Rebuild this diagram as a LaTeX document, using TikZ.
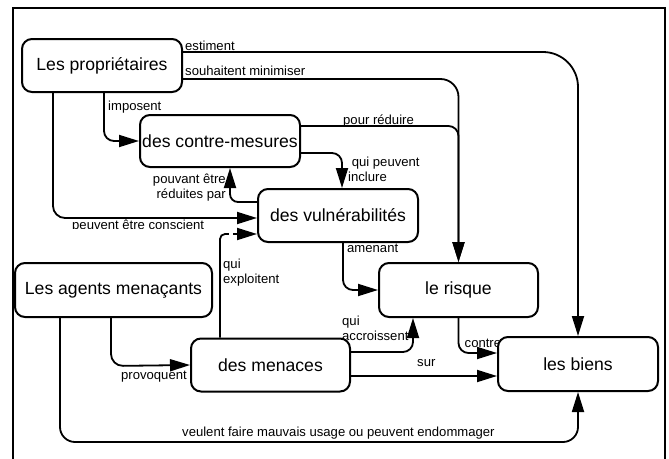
\documentclass[tikz,border=0pt]{standalone}
\usepackage{fontspec}
\setmainfont{Liberation Sans}
\usetikzlibrary{arrows.meta,backgrounds}
\begin{document}
\begin{tikzpicture}[x=1pt,y=-1pt,
  box/.style={draw,line width=2pt,rounded corners=10pt,fill=white,inner sep=0pt,
    minimum width=160pt,minimum height=53pt,font=\fontsize{17.6}{20}\selectfont},
  arr/.style={line width=1.8pt,-{Triangle[length=20pt,width=12pt]}},
  lbl/.style={font=\fontsize{13.1}{15}\selectfont,inner sep=0pt,anchor=west,align=left}]
\useasboundingbox (0,0) rectangle (669,458);
\draw[line width=2pt] (13,460) -- (13,8) -- (665,8) -- (665,460);
% nodes
\node[box] (prop) at (102,65.5) {Les propriétaires};
\node[box,minimum height=52pt] (cm) at (220,141) {des contre-mesures};
\node[box] (vul) at (338,215.5) {des vulnérabilités};
\node[box,minimum width=197pt,minimum height=54pt] (agents) at (113.5,290) {Les agents menaçants};
\node[box,minimum width=159pt] (men) at (270.5,365) {des menaces};
\node[box,minimum width=159pt,minimum height=54pt] (risk) at (458.5,290) {le risque};
\node[box,minimum height=54pt] (biens) at (578,364) {les biens};
% labels
\begin{pgfonlayer}{background}
\node[lbl] (lestim) at (185,45.5) {estiment};
\node[lbl] (lsouh) at (185,71) {souhaitent minimiser};
\node[lbl] (limp) at (108,107.5) {imposent};
\node[lbl] (lpour) at (343,121) {pour réduire};
\node[lbl] (lqpi) at (348,169.5) {\ qui peuvent\\inclure};
\node[lbl,anchor=east,align=right] (lpouv) at (226,187.5) {pouvant être\\réduites par};
\node[lbl] (lcons) at (72,226) {peuvent être conscient};
\node[lbl] (lamen) at (347,248) {amenant};
\node[lbl] (lexpl) at (223,273) {qui\\exploitent};
\node[lbl] (lacc) at (342,328) {qui\\accroissent};
\node[lbl] (lsur) at (417,363) {sur};
\node[lbl] (lcontre) at (464.5,343) {contre};
\node[lbl] (lveul) at (182,433) {veulent faire mauvais usage ou peuvent endommager};
\node[lbl] (lprov) at (121,377) {provoquent};
\end{pgfonlayer}
% connectors
\draw[arr,rounded corners=35pt] (prop.east |- 0,52) -- (578,52) -- (biens.north);
\draw[arr,rounded corners=18pt] (prop.east |- 0,79) -- (458.5,79) -- (risk.north);
\draw[arr,rounded corners=10pt] (cm.east |- 0,126) -- (458.5,126) -- (risk.north);
\draw[arr,rounded corners=10pt] (prop.south -| 104,0) -- (104,141) -- (cm.west);
\draw[arr,rounded corners=12pt] (prop.south -| 53,0) -- (53,218) -- (vul.west |- 0,218);
\draw[arr,rounded corners=10pt] (cm.east |- 0,153) -- (342,153) -- (vul.north -| 342,0);
\draw[arr,rounded corners=8pt] (vul.west |- 0,202) -- (230,202) -- (cm.south -| 230,0);
\draw[arr,rounded corners=5pt] (men.north -| 220,0) -- (220,234) -- (vul.west |- 0,234);
\draw[arr,rounded corners=10pt] (vul.south -| 343,0) -- (343,290) -- (risk.west);
\draw[arr,rounded corners=10pt] (men.east |- 0,352) -- (413,352) -- (risk.south -| 413,0);
\draw[arr] (men.east |- 0,376) -- (biens.west |- 0,376);
\draw[arr,rounded corners=10pt] (risk.south) -- (458.5,353) -- (biens.west |- 0,353);
\draw[arr,rounded corners=15pt] (agents.south -| 60,0) -- (60,442) -- (578,442) -- (biens.south);
\draw[arr,rounded corners=12pt] (agents.south -| 111,0) -- (111,366) -- (men.west);
% gaps as in the reference
\fill[white] (70,228.6) rectangle (215,232);
\fill[white] (228.5,230) rectangle (233,238);
\end{tikzpicture}
\end{document}
